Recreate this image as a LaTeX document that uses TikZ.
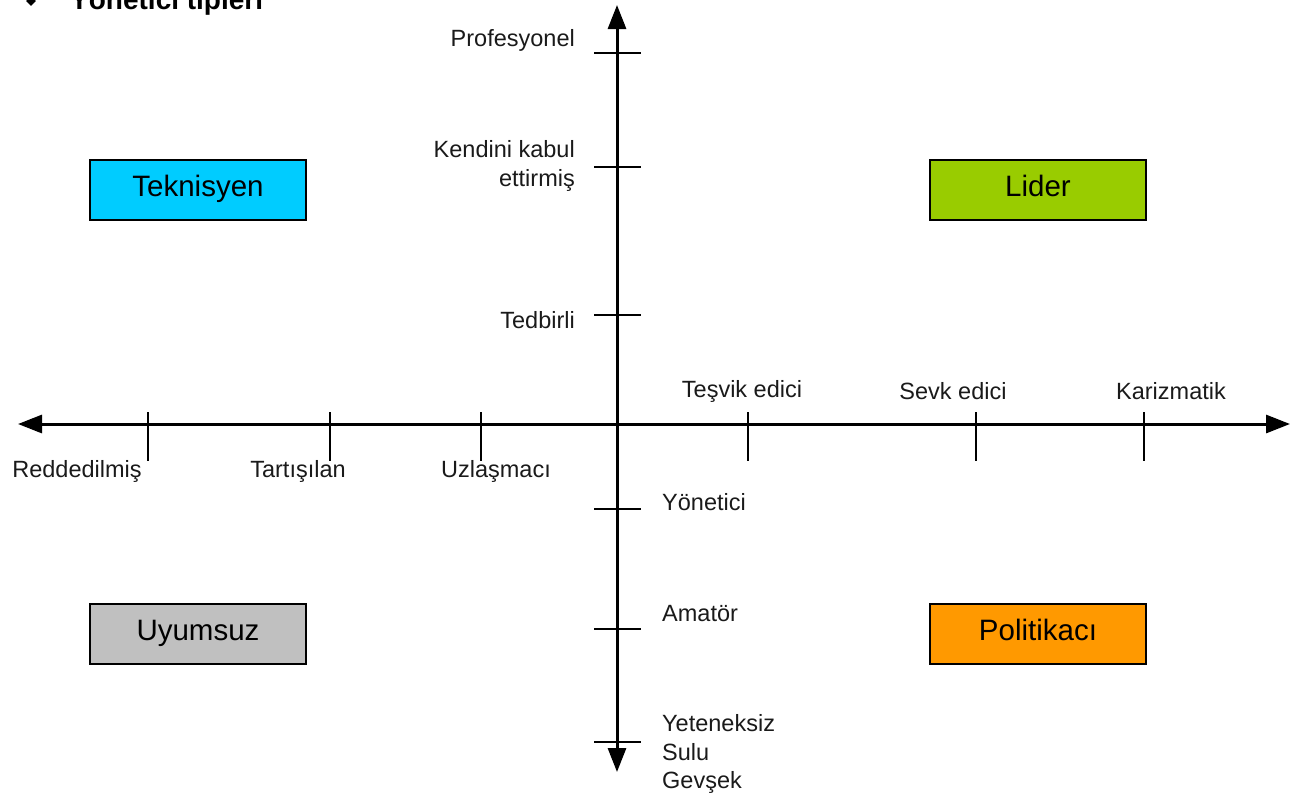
\documentclass[tikz,border=0pt]{standalone}
\usepackage{fontspec}
\setmainfont{Liberation Sans}
\usetikzlibrary{arrows.meta}
\definecolor{tekc}{HTML}{00CCFF}
\definecolor{lidc}{HTML}{99CC00}
\definecolor{uyuc}{HTML}{C0C0C0}
\definecolor{polc}{HTML}{FF9900}
\definecolor{txt}{HTML}{1A1A1A}
\begin{document}
\begin{tikzpicture}[x=1pt,y=-1pt,
  axis/.style={line width=3pt,-{Triangle[length=24pt,width=18pt]}},
  tick/.style={line width=2.5pt},
  lab/.style={font=\fontsize{23.5}{28.5}\selectfont,text=txt,inner sep=0pt},
  box/.style={draw=black,line width=1.6pt,minimum width=216pt,minimum height=60pt,inner sep=0pt,font=\fontsize{29.5}{32}\selectfont,text=black}]
\useasboundingbox (0,0) rectangle (1297,796);
\begin{scope}
\clip (0,0) rectangle (1297,796);
\node[fill=black,inner sep=0pt,minimum size=7pt,shape=rectangle,rotate=45] (bul) at (31,1) {};
\node[anchor=base west,font=\bfseries\fontsize{28}{30}\selectfont,inner sep=0pt] (title) at (70,9) {Yönetici tipleri};
\end{scope}
% axes
\coordinate (O) at (617,424);
\coordinate (L) at (18,424);
\coordinate (R) at (1290,424);
\coordinate (T) at (617,5);
\coordinate (B) at (617,772);
\draw[axis] (O) -- (L);
\draw[axis] (O) -- (R);
\draw[axis] (O) -- (T);
\draw[axis] (O) -- (B);
% horizontal ticks
\foreach \n/\x in {h1/148,h2/330,h3/481,h4/748,h5/976,h6/1144}{
  \coordinate (\n a) at (\x,412);
  \coordinate (\n b) at (\x,461);
  \draw[tick] (\n a) -- (\n b);
}
% vertical ticks
\foreach \n/\y in {v1/53,v2/167,v3/315,v4/509,v5/629,v6/742}{
  \coordinate (\n a) at (594,\y);
  \coordinate (\n b) at (641,\y);
  \draw[tick] (\n a) -- (\n b);
}
% labels upper
\node[lab,anchor=east] (prof) at (575,40) {Profesyonel};
\node[lab,anchor=east,align=right] (kend) at (575,166) {Kendini kabul\\ettirmiş};
\node[lab,anchor=east] (tedb) at (575,320) {Tedbirli};
% labels right
\node[lab] (tesv) at (742,391) {Teşvik edici};
\node[lab] (sevk) at (953,391) {Sevk edici};
\node[lab] (kari) at (1171,391) {Karizmatik};
% labels left
\node[lab] (redd) at (77,471) {Reddedilmiş};
\node[lab] (tart) at (298,471) {Tartışılan};
\node[lab] (uzla) at (496,471) {Uzlaşmacı};
% labels lower
\node[lab,anchor=west] (yone) at (662,502) {Yönetici};
\node[lab,anchor=west] (amat) at (662,614) {Amatör};
\node[lab,anchor=west,align=left] (yete) at (662,754) {Yeteneksiz\\Sulu\\Gevşek};
% boxes
\node[box,fill=tekc] (tek) at (198,190) {\strut Teknisyen};
\node[box,fill=lidc] (lid) at (1038,190) {\strut Lider};
\node[box,fill=uyuc] (uyu) at (198,634) {\strut Uyumsuz};
\node[box,fill=polc] (pol) at (1038,634) {\strut Politikacı};
\end{tikzpicture}
\end{document}
